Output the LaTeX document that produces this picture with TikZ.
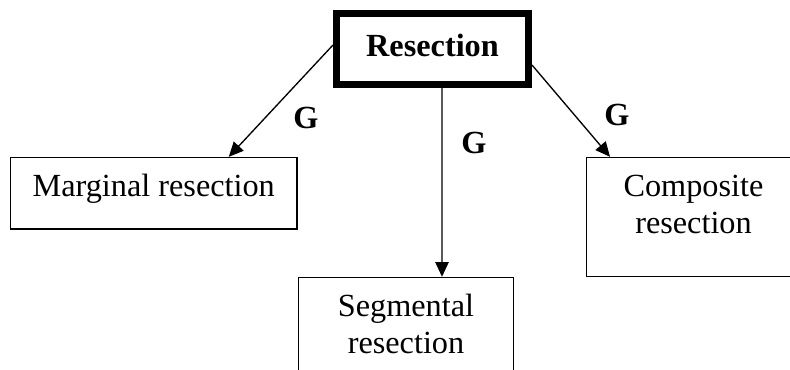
\documentclass[tikz,border=0pt]{standalone}
\usepackage{fontspec}
\setmainfont{Liberation Serif}
\usetikzlibrary{arrows.meta}

\begin{document}
\begin{tikzpicture}[x=0.75pt, y=-0.75pt, font=\fontsize{24.2}{27.75}\selectfont]
\tikzstyle{block} = [rectangle, draw, line width=1pt, align=center,
    inner xsep=0pt, inner ysep=0pt]
\tikzstyle{topblock} = [block, line width=5.25pt, font=\fontsize{24.2}{27.75}\selectfont\bfseries]
\tikzstyle{twoline} = [block, text height=57.4pt, text depth=31.9pt]
\tikzstyle{line} = [draw, line width=1pt, -{Triangle[length=11pt, width=10pt]}]
\tikzstyle{glabel} = [font=\fontsize{24.2}{27.75}\selectfont\bfseries, inner sep=0pt]
    \clip (0,0) rectangle (790,370);
    % Place nodes
    \node [topblock, minimum width=144pt, text height=32.6pt, text depth=20.6pt] (resection) at (432.5,49) {Resection};
    \node [block, minimum width=215pt, text height=29.6pt, text depth=24pt] (marginal) at (153.75,193.25) {Marginal resection};
    \node [twoline, minimum width=161.25pt] (segmental) at (406,337) {Segmental\\resection};
    \node [twoline, minimum width=160.5pt] (composite) at (693.5,217) {Composite\\resection};

%paths
    \path [line] ([yshift=3pt]resection.west) -- ([xshift=56.25pt]marginal.north);
    \path [line] ([xshift=7.1pt]resection.south) -- ([xshift=27pt]segmental.north);
    \path [line] ([yshift=-12pt]resection.east) -- ([xshift=-62.6pt]composite.north);

%labels
    \node [glabel] (gmarginal) at (306,118) {G};
    \node [glabel] (gsegmental) at (474,143) {G};
    \node [glabel] (gcomposite) at (617,115) {G};

\end{tikzpicture}
\end{document}
